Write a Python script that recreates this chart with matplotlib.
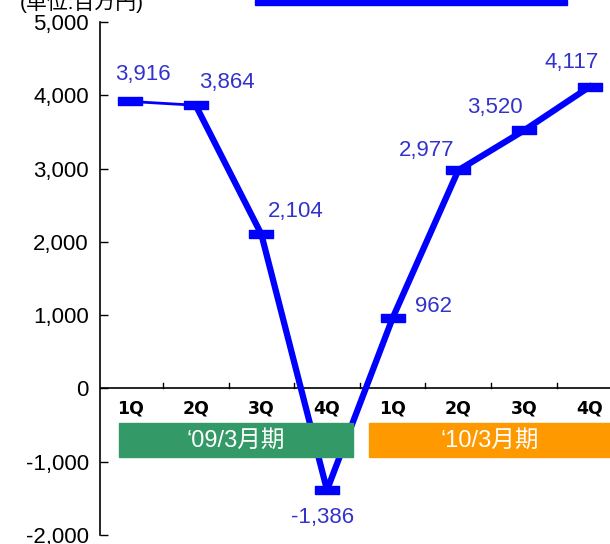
import matplotlib
matplotlib.use('Agg')
import matplotlib.pyplot as plt
from matplotlib.patches import Rectangle

# データ
quarters = ['1Q', '2Q', '3Q', '4Q', '1Q', '2Q', '3Q', '4Q']
values = [3916, 3864, 2104, -1386, 962, 2977, 3520, 4117]
period_labels = ['\u201809/3月期', '\u201810/3月期']
yticks = [-2000, -1000, 0, 1000, 2000, 3000, 4000, 5000]

plt.rcParams['font.family'] = ['Liberation Sans', 'Noto Sans CJK JP', 'DejaVu Sans']

fig = plt.figure(figsize=(6.1, 5.44), dpi=100)
ax = fig.add_axes([100 / 610, 1 - 535 / 544, 510 / 610, 513 / 544])

x = list(range(len(values)))
blue = '#0000ff'

# 折れ線（最初の区間だけ細い）
ax.plot(x[:2], values[:2], color=blue, lw=2, zorder=3)
ax.plot(x[1:], values[1:], color=blue, lw=4.5, zorder=3)
rect = [(-1.2, -0.45), (1.2, -0.45), (1.2, 0.45), (-1.2, 0.45), (-1.2, -0.45)]
ax.plot(x, values, ls='none', marker=rect, ms=17, color=blue, zorder=4)

# データラベル（ピクセル単位のずれ）
offsets = [(13, 27), (31, 23), (34, 23), (-4, -27), (41, 11), (-32, 20), (-29, 23), (-18, 24)]
for xi, v, (dx, dy) in zip(x, values, offsets):
    ax.annotate(f'{v:,}', (xi, v), xytext=(dx * 0.72, dy * 0.72), textcoords='offset points',
                ha='center', va='center', fontsize=16, color='#3333cc')

ax.set_xlim(-0.457, 7.31)
ax.set_ylim(-2000, 5000)

for s in ['top', 'right', 'bottom']:
    ax.spines[s].set_visible(False)
ax.spines['left'].set_linewidth(1.2)
ax.set_yticks(yticks)
ax.set_yticklabels([f'{t:,}' for t in yticks], fontsize=16)
ax.tick_params(axis='y', direction='in', length=6, width=1, pad=8)

# y=0 の軸
ax.axhline(0, color='black', lw=1.2, zorder=2)
ax.set_xticks([])
for m in [i + 0.5 for i in range(7)]:
    ax.plot([m, m], [0, 70], color='black', lw=1, zorder=2)
for xi, q in zip(x, quarters):
    ax.text(xi, -270, q, ha='center', va='center', fontsize=12.5, fontweight='bold',
            family='DejaVu Sans', color='black')

# 期のラベル
boxes = [(119, 353, '#339966'), (369, 610, '#ff9900')]
for (x0, x1, c), lab in zip(boxes, period_labels):
    fig.patches.append(Rectangle((x0 / 610, 1 - 457 / 544), (x1 - x0) / 610, 34 / 544,
                                 transform=fig.transFigure, color=c, zorder=1))
    fig.text((x0 + x1) / 2 / 610, 1 - 441 / 544, lab, ha='center', va='center',
             fontsize=17, color='white')

# 上部の切れた部分
fig.text(20 / 610, 1 - 2 / 544, '(単位:百万円)', ha='left', va='center', fontsize=15, color='black')
fig.patches.append(Rectangle((255 / 610, 1 - 5 / 544), 312 / 610, 5 / 544,
                             transform=fig.transFigure, color=blue))

fig.savefig('out.png', dpi=100)
